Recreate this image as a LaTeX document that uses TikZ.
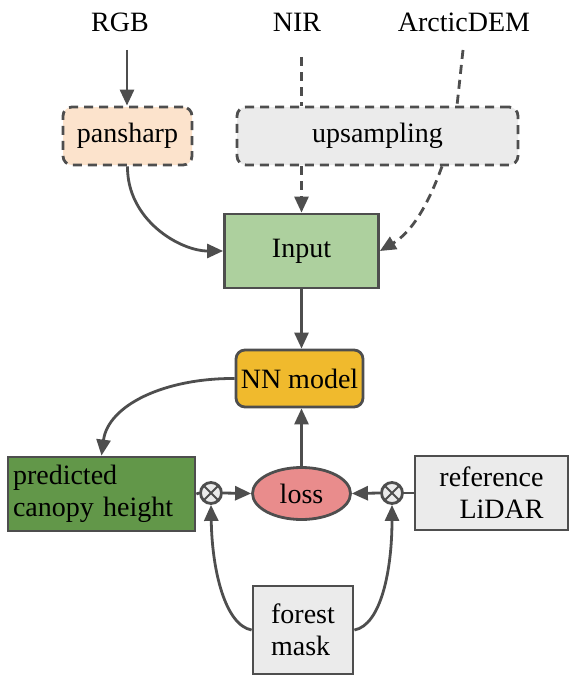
\documentclass[tikz,border=0pt]{standalone}
\usepackage{fontspec}
\setmainfont{Liberation Serif}
\newfontfamily\tnr{Liberation Serif}
\usetikzlibrary{arrows.meta,shapes.geometric}
\definecolor{ln}{RGB}{78,78,78}
\definecolor{peach}{RGB}{252,227,204}
\definecolor{lgray}{RGB}{235,235,235}
\definecolor{igreen}{RGB}{173,208,158}
\definecolor{nnyel}{RGB}{240,186,45}
\definecolor{pgreen}{RGB}{98,151,73}
\definecolor{lossred}{RGB}{233,140,140}
\begin{document}
\begin{tikzpicture}[x=1pt,y=-1pt,
  every node/.style={font=\tnr\fontsize{28}{32}\selectfont},
  base/.style={draw=ln,line width=2.8pt,inner sep=0pt},
  dbox/.style={base,rounded corners=9pt,dash pattern=on 9pt off 6pt},
  rbox/.style={base,rounded corners=9pt},
  plain/.style={draw=ln,line width=2.8pt},
  dplain/.style={plain,dash pattern=on 9pt off 6pt},
  conn/.style={plain,-{Triangle[length=16pt,width=14pt]}},
  dconn/.style={conn,dash pattern=on 9pt off 6pt},
  otimes/.style={base,circle,fill=lgray,minimum size=21pt,
    path picture={\draw[ln,line width=2pt]
      (path picture bounding box.north west) -- (path picture bounding box.south east)
      (path picture bounding box.north east) -- (path picture bounding box.south west);}}
]
\useasboundingbox (0,0) rectangle (577,685);

\node[anchor=base] (rgb) at (120,32) {RGB};
\node[anchor=base] (nir) at (297,32) {NIR};
\node[anchor=base] (dem) at (464,32) {ArcticDEM};

\node[dbox,fill=peach,minimum width=129pt,minimum height=58pt] (pan) at (127.5,136) {pansharp};
\node[dbox,fill=lgray,minimum width=281pt,minimum height=58pt] (up) at (377.5,136) {upsampling\hspace{20pt}};
\node[base,fill=igreen,minimum width=154pt,minimum height=74pt] (inp) at (301.5,251) {Input\hspace{14pt}};
\node[rbox,fill=nnyel,minimum width=127pt,minimum height=57pt] (nn) at (299.5,378.5) {NN model};
\node[base,fill=pgreen,text width=177pt,align=left,inner xsep=5pt,minimum height=74pt] (pred) at (101.5,494) {predicted\\canopy height};
\node[otimes] (oxl) at (211,493) {};
\node[base,ellipse,fill=lossred,minimum width=98pt,minimum height=52pt] (loss) at (301.5,493.5) {loss};
\node[otimes] (oxr) at (392,493) {};
\node[base,fill=lgray,minimum width=153pt,minimum height=74pt,align=right] (ref) at (491.5,493) {reference\\LiDAR};
\node[base,fill=lgray,minimum width=100pt,minimum height=88pt,align=left] (fm) at (303,630) {forest\\mask};

\coordinate (rgbs) at (127,50);
\coordinate (nirs) at (301.5,57);
\coordinate (dems) at (463,50);

\draw[conn] (rgbs) -- (rgbs |- pan.north);
\draw[dplain] (nirs) -- (nirs |- up.north);
\draw[dplain] (dems) -- ([xshift=79.5pt]up.north);
\draw[dconn] (nirs |- up.south) -- (nirs |- inp.north);
\draw[dconn] ([xshift=64.5pt]up.south) .. controls (428,205) and (412,232) .. (inp.east);
\draw[conn] (pan.south) .. controls (127,220) and (180,251) .. (inp.west);
\draw[conn] (inp.south) -- (inp.south |- nn.north);
\draw[conn] (nn.west) .. controls (165,378) and (108,405) .. (pred.north);
\draw[plain] (pred.east) -- (oxl.west);
\draw[conn] (oxl.east) -- (loss.west);
\draw[plain] (ref.west) -- (oxr.east);
\draw[conn] (oxr.west) -- (loss.east);
\draw[conn] (loss.north) -- (loss.north |- nn.south);
\draw[conn] (fm.west) .. controls (225,625) and (212,570) .. (oxl.south);
\draw[conn] (fm.east) .. controls (381,625) and (392,570) .. (oxr.south);
\end{tikzpicture}
\end{document}
